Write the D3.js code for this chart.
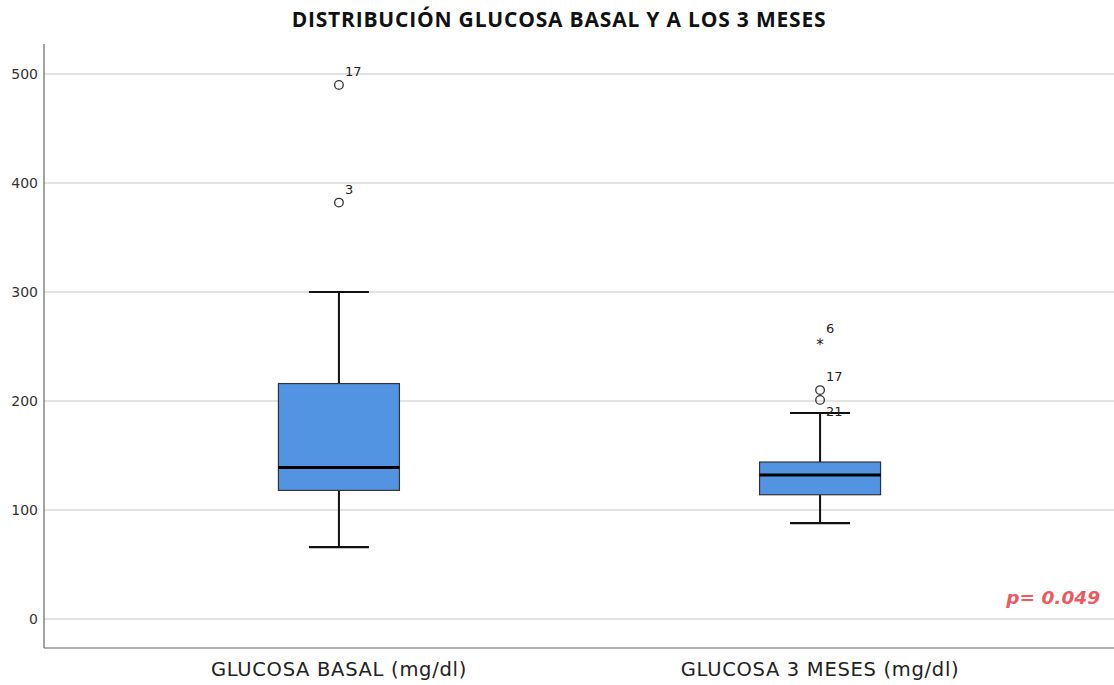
<!DOCTYPE html>
<html><head><meta charset="utf-8">
<script src="https://cdn.jsdelivr.net/npm/d3@7"></script>
<style>body{margin:0;background:#fff}svg{display:block}</style>
</head><body><svg id="c" width="1114" height="685"></svg>
<script>
const categories = ["GLUCOSA BASAL (mg/dl)", "GLUCOSA 3 MESES (mg/dl)"];
const q1 = [118, 114];
const median = [139, 132];
const q3 = [216, 144];
const whiskerLow = [66, 88];
const whiskerHigh = [300, 189];
const outlierCategory = [0, 0, 1, 1, 1];
const outlierValue = [490, 382, 254, 210, 201];
const outlierCase = ["17", "3", "6", "17", "21"];
const outlierExtreme = [false, false, true, false, false];
const yTicks = [0, 100, 200, 300, 400, 500];
const title = "DISTRIBUCIÓN GLUCOSA BASAL Y A LOS 3 MESES";
const pText = "p= 0.049";

(function () {
const svg = d3.select("#c");
const mLeft = 44, mRight = 1115, mTop = 44, mBottom = 648;
const y = d3.scaleLinear().domain([-26.6, 527.5]).range([mBottom, mTop]);
const x = d3.scalePoint().domain(categories).range([mLeft, mRight]).padding(0.613);
const boxW = 121, capW = 60;
const sans = "'DejaVu Sans', Verdana, sans-serif";

svg.append("g").selectAll("line").data(yTicks).join("line")
  .attr("x1", mLeft).attr("x2", 1114)
  .attr("y1", d => y(d)).attr("y2", d => y(d))
  .attr("stroke", "#c8c8c8").attr("stroke-width", 1.2);

const ya = svg.append("g").attr("transform", `translate(${mLeft},0)`)
  .call(d3.axisLeft(y).tickValues(yTicks).tickSize(0).tickPadding(6));
ya.select(".domain").remove();
ya.selectAll("text").attr("font-family", sans).attr("font-size", 14).attr("fill", "#333");
svg.append("line").attr("x1", mLeft).attr("x2", mLeft).attr("y1", mTop).attr("y2", mBottom)
  .attr("stroke", "#666").attr("stroke-width", 1.2);
svg.append("line").attr("x1", mLeft).attr("x2", 1114).attr("y1", mBottom).attr("y2", mBottom)
  .attr("stroke", "#666").attr("stroke-width", 1.2);

svg.append("g").selectAll("text").data(categories).join("text")
  .attr("x", d => x(d)).attr("y", 676).attr("text-anchor", "middle")
  .attr("font-family", sans).attr("font-size", 19.5).attr("letter-spacing", 0.7).attr("fill", "#222")
  .text(d => d);

const g = svg.append("g");
categories.forEach((c, i) => {
  const cx = x(c);
  g.append("line").attr("x1", cx).attr("x2", cx).attr("y1", y(whiskerHigh[i])).attr("y2", y(q3[i]))
    .attr("stroke", "#111").attr("stroke-width", 2);
  g.append("line").attr("x1", cx).attr("x2", cx).attr("y1", y(q1[i])).attr("y2", y(whiskerLow[i]))
    .attr("stroke", "#111").attr("stroke-width", 2);
  [whiskerHigh[i], whiskerLow[i]].forEach(v => {
    g.append("line").attr("x1", cx - capW/2).attr("x2", cx + capW/2).attr("y1", y(v)).attr("y2", y(v))
      .attr("stroke", "#111").attr("stroke-width", 2.2);
  });
  g.append("rect").attr("x", cx - boxW/2).attr("width", boxW)
    .attr("y", y(q3[i])).attr("height", y(q1[i]) - y(q3[i]))
    .attr("fill", "#5294e2").attr("stroke", "#333").attr("stroke-width", 1.2);
  g.append("line").attr("x1", cx - boxW/2).attr("x2", cx + boxW/2)
    .attr("y1", y(median[i])).attr("y2", y(median[i]))
    .attr("stroke", "#000").attr("stroke-width", 3);
});

const lastLabelY = {};
outlierValue.forEach((v, k) => {
  const cx = x(categories[outlierCategory[k]]);
  const py = y(v);
  if (outlierExtreme[k]) {
    g.append("text").attr("x", cx).attr("y", py + 8).attr("text-anchor", "middle")
      .attr("font-family", sans).attr("font-size", 15).attr("fill", "#222").text("*");
  } else {
    g.append("circle").attr("cx", cx).attr("cy", py).attr("r", 4.3)
      .attr("fill", "none").attr("stroke", "#333").attr("stroke-width", 1.3);
  }
  let ly = py - 9;
  const key = outlierCategory[k];
  if (lastLabelY[key] !== undefined && ly - lastLabelY[key] < 14) ly = py + 16;
  lastLabelY[key] = ly;
  g.append("text").attr("x", cx + 6).attr("y", ly)
    .attr("font-family", sans).attr("font-size", 13).attr("fill", "#222")
    .text(outlierCase[k]);
});

svg.append("text").attr("x", 559).attr("y", 27).attr("text-anchor", "middle")
  .attr("font-family", "'Open Sans', 'Noto Sans', sans-serif").attr("font-weight", "bold")
  .attr("font-size", 21).attr("letter-spacing", 0.8).attr("fill", "#111")
  .text(title);

svg.append("text").attr("x", 1100).attr("y", 604).attr("text-anchor", "end")
  .attr("font-family", sans).attr("font-weight", "bold").attr("font-style", "italic")
  .attr("font-size", 18.5).attr("fill", "#ec5a5f").text(pText);
})();
</script></body></html>
